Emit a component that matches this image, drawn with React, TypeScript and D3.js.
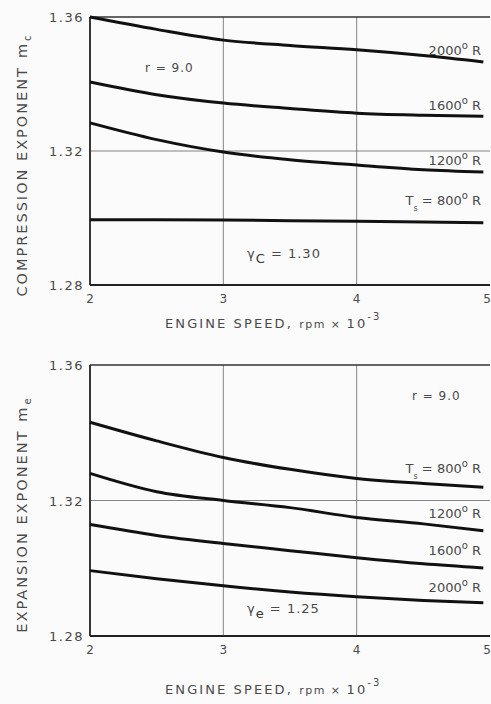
import React from "react";
import * as d3 from "d3";

// Engine speed (rpm × 10^-3) at which each curve is sampled
const speeds = [2, 2.5, 3, 3.5, 4, 4.5, 4.95];

// Compression exponent m_c for each surface temperature T_s (°R)
const compTemps = ["2000", "1600", "1200", "800"];
const comp2000 = [1.36, 1.3563, 1.3531, 1.3515, 1.3502, 1.3485, 1.3466];
const comp1600 = [1.3406, 1.3368, 1.3343, 1.3327, 1.3313, 1.3307, 1.3304];
const comp1200 = [1.3284, 1.3234, 1.3197, 1.3174, 1.3158, 1.3144, 1.3137];
const comp800 = [1.2995, 1.2995, 1.2994, 1.2992, 1.299, 1.2988, 1.2986];

// Expansion exponent m_e for each surface temperature T_s (°R)
const expTemps = ["800", "1200", "1600", "2000"];
const exp800 = [1.3431, 1.3376, 1.3327, 1.3292, 1.3265, 1.325, 1.3239];
const exp1200 = [1.328, 1.3226, 1.32, 1.3179, 1.315, 1.3131, 1.3111];
const exp1600 = [1.3129, 1.3097, 1.3073, 1.3052, 1.3031, 1.3013, 1.3001];
const exp2000 = [1.2993, 1.2969, 1.2948, 1.293, 1.2916, 1.2905, 1.2898];

const xTicks = [2, 3, 4, 5];
const yTicks = [1.28, 1.32, 1.36];
const xTitle = "ENGINE SPEED, rpm × 10";

const FONT = "'DejaVu Sans', sans-serif";
const INK = "#4a4a4a";

const x = d3.scaleLinear().domain([2, 5]).range([90, 490]);

type Series = { temp: string; values: number[] };

function Deg({ temp }: { temp: string }) {
  return (
    <>
      {temp}
      <tspan dy={-6} fontSize={10}>o</tspan>
      <tspan dy={6}> R</tspan>
    </>
  );
}

function Panel(props: {
  top: number;
  bottom: number;
  series: Series[];
  labelY: number[];
  firstIsTs: boolean;
  rY: number;
  rX: number;
  gammaSub: string;
  gammaVal: string;
  gammaY: number;
  yTitle: string;
  mSub: string;
  xTitleY: number;
}) {
  const y = d3.scaleLinear().domain([1.28, 1.36]).range([props.bottom, props.top]);
  const line = d3
    .line<number>()
    .x((_, i) => x(speeds[i]))
    .y((v) => y(v))
    .curve(d3.curveMonotoneX);

  const titleMid = (props.top + props.bottom) / 2 + 14;

  return (
    <g>
      {/* grid */}
      {[3, 4].map((t) => (
        <line key={t} x1={x(t)} x2={x(t)} y1={y(1.36)} y2={y(1.28)} stroke="#666" strokeWidth={0.8} />
      ))}
      <line x1={x(2)} x2={x(5)} y1={y(1.32)} y2={y(1.32)} stroke="#666" strokeWidth={0.8} />
      {/* frame */}
      <line x1={x(2)} x2={x(5)} y1={y(1.36)} y2={y(1.36)} stroke="#333" strokeWidth={1.4} />
      <line x1={x(2)} x2={x(5)} y1={y(1.28)} y2={y(1.28)} stroke="#222" strokeWidth={1.8} />
      <line x1={x(2)} x2={x(2)} y1={y(1.36)} y2={y(1.28)} stroke="#222" strokeWidth={1.8} />

      {/* curves */}
      {props.series.map((s) => (
        <path key={s.temp} d={line(s.values) || ""} fill="none" stroke="#111" strokeWidth={3} />
      ))}

      {/* y tick labels */}
      {yTicks.map((t) => (
        <text key={t} x={84} y={y(t) + 5} textAnchor="end" fontFamily={FONT} fontSize={13} letterSpacing={1.5} fill={INK}>
          {t.toFixed(2)}
        </text>
      ))}
      {/* x tick labels */}
      {xTicks.map((t) => (
        <text
          key={t}
          x={t === 5 ? 491 : x(t)}
          y={y(1.28) + 18}
          textAnchor={t === 5 ? "end" : "middle"}
          fontFamily={FONT}
          fontSize={12}
          fill={INK}
        >
          {t}
        </text>
      ))}

      {/* x title */}
      <text x={165} y={props.xTitleY} fontFamily={FONT} fontSize={13} letterSpacing={2.1} fill={INK}>
        {xTitle.split("rpm")[0]}
        <tspan fontSize={11} letterSpacing={1.5}>rpm × </tspan>
        10
        <tspan dy={-8} fontSize={10}>-3</tspan>
      </text>

      {/* y title */}
      <text
        transform={`translate(27,${titleMid}) rotate(-90)`}
        textAnchor="middle"
        fontFamily={FONT}
        fontSize={14.5}
        letterSpacing={2}
        fill={INK}
      >
        {props.yTitle}
        <tspan dx={8}>m</tspan>
        <tspan dy={4} dx={1} fontSize={10}>{props.mSub}</tspan>
      </text>

      {/* r label */}
      <text x={props.rX} y={props.rY} fontFamily={FONT} fontSize={12} letterSpacing={1} fill={INK}>
        r = 9.0
      </text>

      {/* temperature labels */}
      {props.series.map((s, i) => {
        const isTs = props.firstIsTs ? i === 0 : i === props.series.length - 1;
        return (
          <text key={s.temp} x={481} y={props.labelY[i]} textAnchor="end" fontFamily={FONT} fontSize={13} fill={INK}>
            {isTs ? (
              <>
                T<tspan dy={6} fontSize={8}>s</tspan>
                <tspan dy={-6}> = </tspan>
                <Deg temp={s.temp} />
              </>
            ) : (
              <Deg temp={s.temp} />
            )}
          </text>
        );
      })}

      {/* gamma label */}
      <text x={247} y={props.gammaY} fontFamily={FONT} fontSize={13} letterSpacing={1} fill={INK}>
        γ
        <tspan dy={5} fontSize={13} fill="#333">{props.gammaSub}</tspan>
        <tspan dy={-5}> = {props.gammaVal}</tspan>
      </text>
    </g>
  );
}

export default function App() {
  const compSeries: Series[] = [
    { temp: compTemps[0], values: comp2000 },
    { temp: compTemps[1], values: comp1600 },
    { temp: compTemps[2], values: comp1200 },
    { temp: compTemps[3], values: comp800 },
  ];
  const expSeries: Series[] = [
    { temp: expTemps[0], values: exp800 },
    { temp: expTemps[1], values: exp1200 },
    { temp: expTemps[2], values: exp1600 },
    { temp: expTemps[3], values: exp2000 },
  ];
  return (
    <svg
      width={491}
      height={704}
      style={{ position: "absolute", left: 0, top: 0, background: "#fbfbfb" }}
    >
      <Panel
        top={17}
        bottom={285}
        series={compSeries}
        labelY={[55, 110, 165, 205]}
        firstIsTs={false}
        rY={72}
        rX={145}
        gammaSub="C"
        gammaVal="1.30"
        gammaY={258}
        yTitle="COMPRESSION EXPONENT"
        mSub="c"
        xTitleY={328}
      />
      <Panel
        top={365}
        bottom={636}
        series={expSeries}
        labelY={[473, 518, 555, 592]}
        firstIsTs={true}
        rY={400}
        rX={412}
        gammaSub="e"
        gammaVal="1.25"
        gammaY={613}
        yTitle="EXPANSION EXPONENT"
        mSub="e"
        xTitleY={694}
      />
    </svg>
  );
}
